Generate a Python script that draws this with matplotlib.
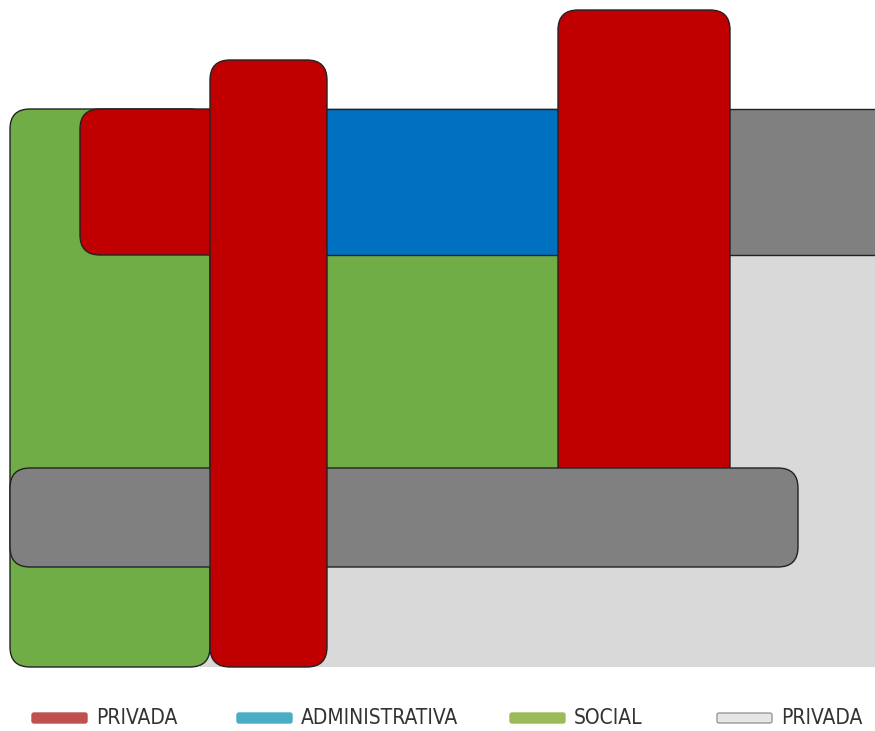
import matplotlib.pyplot as plt
from matplotlib.patches import FancyBboxPatch, Rectangle
from matplotlib import font_manager

# zones of the plan, in picture units (x left, x right, y top, y bottom), drawn in order
zones = ["fondo", "social_col", "social_centro", "admin", "servicio_der",
         "privada_izq", "privada_der", "circulacion", "privada_col"]
x0 = [200, 10, 215, 320, 720, 80, 558, 10, 210]
x1 = [880, 210, 560, 562, 880, 240, 730, 798, 327]
y0 = [255, 109, 109, 109, 109, 109, 10, 468, 60]
y1 = [667, 667, 470, 255, 255, 255, 495, 567, 667]
fills = ["#D9D9D9", "#70AD47", "#70AD47", "#0070C0", "#808080",
         "#C00000", "#C00000", "#808080", "#C00000"]
rounded = [False, True, False, False, False, True, True, True, True]

legend_labels = ["PRIVADA", "ADMINISTRATIVA", "SOCIAL", "PRIVADA"]
legend_colors = ["#C0504D", "#4BACC6", "#9BBB59", "#E6E6E6"]
legend_x = [32, 237, 510, 717]

names = {f.name for f in font_manager.fontManager.ttflist}
narrow = "Liberation Sans Narrow" if "Liberation Sans Narrow" in names else "DejaVu Sans"
stretch = "normal" if narrow == "Liberation Sans Narrow" else "condensed"

fig = plt.figure(figsize=(8.75, 7.31), dpi=100)
ax = fig.add_axes([0, 0, 1, 1])
ax.set_xlim(0, 875)
ax.set_ylim(731, 0)
ax.axis("off")

for i in range(len(zones)):
    w = x1[i] - x0[i]
    h = y1[i] - y0[i]
    if rounded[i]:
        p = FancyBboxPatch((x0[i], y0[i]), w, h,
                           boxstyle="round,pad=0,rounding_size=20",
                           facecolor=fills[i], edgecolor="#222222", linewidth=1)
    else:
        edge = "none" if zones[i] == "fondo" else "#222222"
        p = Rectangle((x0[i], y0[i]), w, h, facecolor=fills[i],
                      edgecolor=edge, linewidth=1)
    ax.add_patch(p)

# legend row
for lab, col, lx in zip(legend_labels, legend_colors, legend_x):
    edge = "#999999" if col == "#E6E6E6" else col
    ax.add_patch(FancyBboxPatch((lx, 713), 55, 10,
                                boxstyle="round,pad=0,rounding_size=2",
                                facecolor=col, edgecolor=edge, linewidth=1))
    ax.text(lx + 64, 718, lab, fontsize=15, color="#333333",
            family=[narrow, "DejaVu Sans"], fontstretch=stretch,
            va="center", ha="left")

fig.savefig("out.png", dpi=100)
